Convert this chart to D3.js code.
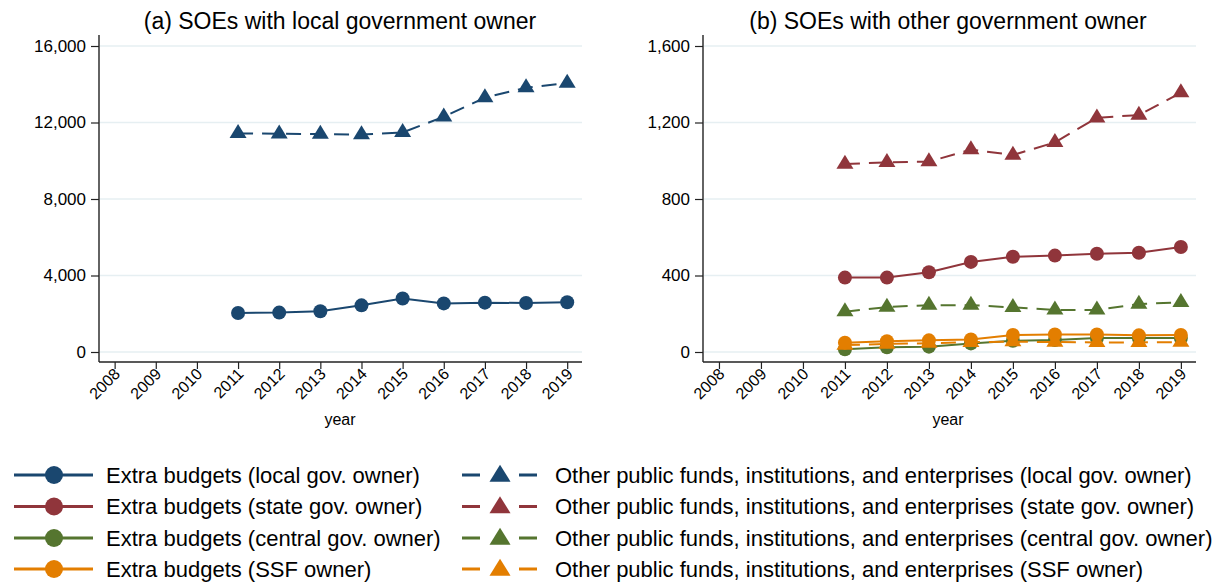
<!DOCTYPE html>
<head>
<meta charset="utf-8">
<script src="https://d3js.org/d3.v7.min.js"></script>
<style>
  body { margin: 0; background: #fff; }
  text { font-family: "Liberation Sans", Arial, sans-serif; fill: #000; }
</style>
</head>
<body>
<div id="chart"></div>
<script>
// years with data, and the tick years on the x axis
var years = [2011, 2012, 2013, 2014, 2015, 2016, 2017, 2018, 2019];
var tickYears = [2008, 2009, 2010, 2011, 2012, 2013, 2014, 2015, 2016, 2017, 2018, 2019];

// panel (a): local government owner
var localExtra = [2040, 2060, 2130, 2440, 2800, 2540, 2580, 2560, 2600];
var localOther = [11430, 11410, 11400, 11370, 11480, 12300, 13300, 13820, 14060];

// panel (b): other government owners
var stateExtra   = [389, 389, 417, 471, 498, 504, 514, 519, 549];
var stateOther   = [983, 992, 995, 1058, 1030, 1096, 1225, 1239, 1356];
var centralExtra = [14, 25, 28, 45, 59, 63, 73, 73, 73];
var centralOther = [211, 235, 245, 245, 233, 220, 220, 251, 260];
var ssfExtra     = [49, 56, 61, 66, 89, 92, 92, 87, 89];
var ssfOther     = [36, 42, 46, 51, 54, 52, 50, 50, 52];

var ticksA = [0, 4000, 8000, 12000, 16000];
var ticksB = [0, 400, 800, 1200, 1600];

var colors = { local: "#1a476f", state: "#90353b", central: "#55752f", ssf: "#e37e00" };

var width = 1228, height = 582;
var svg = d3.select("#chart").append("svg")
    .attr("width", width).attr("height", height);

// triangle with its centroid on the point
function triPath(s, h) {
  return "M0," + (-2 * h / 3) + "L" + (s / 2) + "," + (h / 3) + "L" + (-s / 2) + "," + (h / 3) + "Z";
}

function drawPanel(p) {
  var x = d3.scaleLinear().domain([2007.62, 2019.36]).range([p.left, p.right]);
  var y = d3.scaleLinear().domain([p.ticks[0], p.ticks[p.ticks.length - 1]]).range([352, 46]);
  var g = svg.append("g");

  // title
  g.append("text").attr("x", p.titleX).attr("y", 29)
    .attr("text-anchor", "middle").style("font-size", "23px").text(p.title);

  // grid lines
  g.selectAll(".grid").data(p.ticks).enter().append("line")
    .attr("x1", p.left + 1).attr("x2", p.right)
    .attr("y1", function(d) { return y(d); }).attr("y2", function(d) { return y(d); })
    .attr("stroke", "#e6eff2").attr("stroke-width", 1.5);

  // y axis
  var yAxis = g.append("g").attr("transform", "translate(" + p.left + ",0)")
    .call(d3.axisLeft(y).tickValues(p.ticks).tickSize(8).tickPadding(5).tickFormat(d3.format(",")));
  yAxis.select(".domain").attr("d", "M0,35V362").attr("stroke", "#222").attr("stroke-width", 1.4);
  yAxis.selectAll(".tick line").attr("stroke", "#222").attr("stroke-width", 1.2);
  yAxis.selectAll(".tick text").style("font-size", "17px").attr("fill", "#000");

  // x axis
  var xAxis = g.append("g").attr("transform", "translate(0,362)")
    .call(d3.axisBottom(x).tickValues(tickYears).tickSize(7).tickFormat(d3.format("d")));
  xAxis.select(".domain").attr("d", "M" + p.left + ",0H" + p.right).attr("stroke", "#222").attr("stroke-width", 1.4);
  xAxis.selectAll(".tick line").attr("stroke", "#222").attr("stroke-width", 1.2);
  xAxis.selectAll(".tick text")
    .style("font-size", "16px").attr("fill", "#000")
    .attr("text-anchor", "end").attr("dy", null).attr("y", 0)
    .attr("transform", "translate(6,13) rotate(-45)");

  g.append("text").attr("x", p.titleX).attr("y", 425)
    .attr("text-anchor", "middle").style("font-size", "16px").text("year");

  var line = d3.line()
    .x(function(d, i) { return x(years[i]); })
    .y(function(d) { return y(d); });

  p.series.forEach(function(s) {
    g.append("path").datum(s.values)
      .attr("fill", "none").attr("stroke", s.color).attr("stroke-width", 2)
      .attr("stroke-dasharray", s.dashed ? "15,9" : null)
      .attr("d", line);
    var m = g.selectAll(null).data(s.values).enter();
    if (s.dashed) {
      m.append("path").attr("d", triPath(17, 14))
        .attr("transform", function(d, i) { return "translate(" + x(years[i]) + "," + y(d) + ")"; })
        .attr("fill", s.color);
    } else {
      m.append("circle").attr("r", 7)
        .attr("cx", function(d, i) { return x(years[i]); })
        .attr("cy", function(d) { return y(d); })
        .attr("fill", s.color);
    }
  });
}

drawPanel({
  left: 99, right: 582, titleX: 340, ticks: ticksA,
  title: "(a) SOEs with local government owner",
  series: [
    { values: localOther, color: colors.local, dashed: true },
    { values: localExtra, color: colors.local, dashed: false }
  ]
});

drawPanel({
  left: 703, right: 1196, titleX: 948, ticks: ticksB,
  title: "(b) SOEs with other government owner",
  series: [
    { values: stateOther, color: colors.state, dashed: true },
    { values: stateExtra, color: colors.state, dashed: false },
    { values: centralOther, color: colors.central, dashed: true },
    { values: centralExtra, color: colors.central, dashed: false },
    { values: ssfOther, color: colors.ssf, dashed: true },
    { values: ssfExtra, color: colors.ssf, dashed: false }
  ]
});

// legend
var legendRows = [
  { key: "local",   extra: "Extra budgets (local gov. owner)",   other: "Other public funds, institutions, and enterprises (local gov. owner)" },
  { key: "state",   extra: "Extra budgets (state gov. owner)",   other: "Other public funds, institutions, and enterprises (state gov. owner)" },
  { key: "central", extra: "Extra budgets (central gov. owner)", other: "Other public funds, institutions, and enterprises (central gov. owner)" },
  { key: "ssf",     extra: "Extra budgets (SSF owner)",          other: "Other public funds, institutions, and enterprises (SSF owner)" }
];
var legendY = [475, 506.5, 538, 569];

var lg = svg.append("g");
legendRows.forEach(function(r, i) {
  var yy = legendY[i], c = colors[r.key];
  lg.append("line").attr("x1", 14).attr("x2", 93).attr("y1", yy).attr("y2", yy)
    .attr("stroke", c).attr("stroke-width", 3);
  lg.append("circle").attr("cx", 54).attr("cy", yy).attr("r", 9).attr("fill", c);
  lg.append("text").attr("x", 106).attr("y", yy).attr("dy", "0.35em")
    .style("font-size", "22px").text(r.extra);

  lg.append("line").attr("x1", 462).attr("x2", 537).attr("y1", yy).attr("y2", yy)
    .attr("stroke", c).attr("stroke-width", 3).attr("stroke-dasharray", "18,39");
  lg.append("path").attr("d", triPath(21, 17))
    .attr("transform", "translate(500," + (yy + 1) + ")").attr("fill", c);
  lg.append("text").attr("x", 555).attr("y", yy).attr("dy", "0.35em")
    .style("font-size", "22px").text(r.other);
});
</script>
</body>
